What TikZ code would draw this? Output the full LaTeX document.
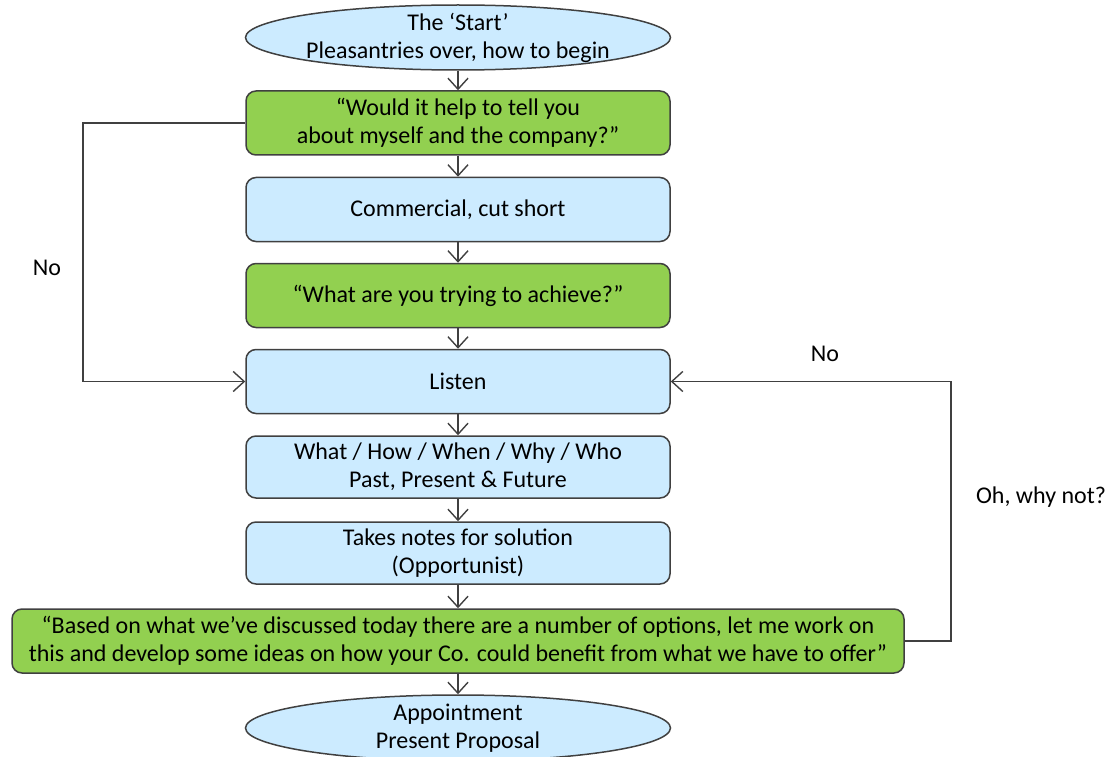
\documentclass[tikz,border=0pt]{standalone}
\usepackage{fontspec}
\setmainfont{Carlito}
\usetikzlibrary{arrows.meta,shapes.geometric}
\definecolor{lblue}{HTML}{CCEBFF}
\definecolor{lgreen}{HTML}{92D050}
\definecolor{edgegray}{HTML}{404040}
\begin{document}
\begin{tikzpicture}[x=1pt,y=-1pt,
  font=\fontsize{24}{28}\selectfont,
  box/.style={draw=edgegray, line width=1.5pt, rounded corners=10pt, align=center, inner sep=0pt, minimum height=64pt, minimum width=424pt},
  bluebox/.style={box, fill=lblue},
  greenbox/.style={box, fill=lgreen},
  oval/.style={ellipse, draw=edgegray, line width=1.5pt, fill=lblue, align=center, inner sep=-8pt, minimum width=425pt, minimum height=65pt},
  conn/.style={draw=edgegray, line width=1.4pt, -{Straight Barb[length=11pt,width=20pt]}},
  lbl/.style={inner sep=0pt}]
\path[use as bounding box] (0,0) rectangle (1109,757);
\clip (0,0) rectangle (1109,757);
\node[oval] (start) at (458,37.5) {The ‘Start’\\Pleasantries over, how to begin};
\node[greenbox] (q1) at (458,123) {“Would it help to tell you\\about myself and the company?”};
\node[bluebox] (comm) at (458,209.5) {Commercial, cut short};
\node[greenbox] (q2) at (458,295.5) {“What are you trying to achieve?”};
\node[bluebox] (listen) at (458,381.5) {Listen};
\node[bluebox, minimum height=62pt] (what) at (458,467) {What / How / When / Why / Who\\Past, Present \& Future};
\node[bluebox, minimum height=62pt] (notes) at (458,553) {Takes notes for solution\\(Opportunist)};
\node[greenbox, minimum width=892pt] (q3) at (458,641) {“Based on what we’ve discussed today there are a number of options, let me work on\\this and develop some ideas on how your Co. could benefit from what we have to offer”};
\node[oval, minimum height=66pt] (end) at (458,728) {Appointment\\Present Proposal};
\draw[conn] (start) -- (q1);
\draw[conn] (q1) -- (comm);
\draw[conn] (comm) -- (q2);
\draw[conn] (q2) -- (listen);
\draw[conn] (listen) -- (what);
\draw[conn] (what) -- (notes);
\draw[conn] (notes) -- (q3);
\draw[conn] (q3) -- (end);
\coordinate (lk) at (83,123);
\coordinate (rk) at (951,641);
\draw[conn] (q1.west) -- (lk) |- (listen.west);
\draw[conn] (q3.east) -- (rk) |- (listen.east);
\node[lbl] (no1) at (47,268) {No};
\node[lbl] (no2) at (825,354) {No};
\node[lbl] (why) at (1041,497) {Oh, why not?};
\end{tikzpicture}
\end{document}
